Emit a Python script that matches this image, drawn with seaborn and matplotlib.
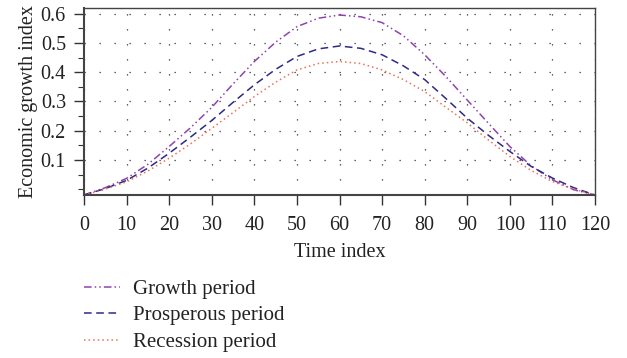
import numpy as np
import pandas as pd
import matplotlib
matplotlib.use("Agg")
import matplotlib.pyplot as plt
import seaborn as sns
from matplotlib.ticker import MultipleLocator

time_index = [0, 5, 10, 15, 20, 25, 30, 35, 40, 45, 50, 55, 60, 65, 70, 75, 80, 85, 90, 95, 100, 105, 110, 115, 120]
growth = [-0.02, 0.005, 0.037, 0.085, 0.146, 0.21, 0.28, 0.36, 0.437, 0.503, 0.556, 0.585, 0.596, 0.59, 0.57, 0.525, 0.46, 0.385, 0.305, 0.225, 0.146, 0.08, 0.032, -0.002, -0.02]
prosperous = [-0.02, 0.002, 0.03, 0.072, 0.123, 0.178, 0.235, 0.297, 0.357, 0.41, 0.454, 0.48, 0.49, 0.482, 0.46, 0.422, 0.375, 0.31, 0.243, 0.184, 0.129, 0.078, 0.038, 0.005, -0.02]
recession = [-0.02, 0.0, 0.025, 0.062, 0.106, 0.155, 0.208, 0.262, 0.317, 0.366, 0.408, 0.43, 0.437, 0.43, 0.408, 0.375, 0.334, 0.28, 0.227, 0.168, 0.112, 0.064, 0.026, 0.0, -0.02]
series_names = ["Growth period", "Prosperous period", "Recession period"]
colors = ["#8E44AD", "#2E2A85", "#E8735A"]
x_ticks = list(range(0, 121, 10))
y_ticks = [0.1, 0.2, 0.3, 0.4, 0.5, 0.6]

sns.set_style("white")
plt.rcParams['font.family'] = ['Liberation Serif', 'DejaVu Serif']

df = pd.DataFrame({"t": time_index * 3,
                   "v": growth + prosperous + recession,
                   "s": sum([[n] * len(time_index) for n in series_names], [])})

fig = plt.figure(figsize=(6.27, 3.58), dpi=100)
ax = fig.add_axes([84 / 627, 1 - 195 / 358, (595 - 84) / 627, (195 - 8) / 358])

styles = [(0, (5, 2, 1, 2, 1, 2)), (0, (5, 3)), (0, (1, 2))]
for name, col, ls in zip(series_names, colors, styles):
    sub = df[df.s == name]
    sns.lineplot(data=sub, x="t", y="v", ax=ax, color=col, linestyle=ls, linewidth=1.1, label=name)

fs = 14.5
ax.set_xlim(0, 120)
ax.set_ylim(-0.02, 0.62)
ax.set_xticks(x_ticks)
ax.set_yticks(y_ticks)
ax.set_yticklabels([f"{v:.1f}" for v in y_ticks])
ax.yaxis.set_minor_locator(MultipleLocator(0.05))
ax.tick_params(axis='both', which='major', direction='out', length=7, width=1, color='#333333',
               labelsize=fs, left=True, bottom=True, labelcolor='#222222')
ax.tick_params(axis='x', which='major', pad=8)
ax.tick_params(axis='y', which='major', pad=6)
ax.tick_params(axis='y', which='minor', direction='out', length=4, width=0.8, color='#333333', left=True)
ax.grid(True, which='major', linestyle=(0, (1, 11)), color='#333333', linewidth=0.9)
for s in ax.spines.values():
    s.set_color('#444444')
    s.set_linewidth(1.0)
ax.spines['left'].set_linewidth(1.5)
ax.spines['bottom'].set_linewidth(1.5)
ax.set_xlabel("Time index", fontsize=fs, labelpad=6, color='#222222')
ax.set_ylabel("Economic growth index", fontsize=fs, labelpad=2, color='#222222')

h, l = ax.get_legend_handles_labels()
ax.legend_.remove()
fig.legend(h, l, loc='upper left', bbox_to_anchor=(76 / 627, 1 - 271 / 358), frameon=False,
           fontsize=15, handlelength=1.73, handletextpad=0.62, labelspacing=0.33, borderaxespad=0,
           labelcolor='#222222')

fig.savefig("out.png", dpi=100)
